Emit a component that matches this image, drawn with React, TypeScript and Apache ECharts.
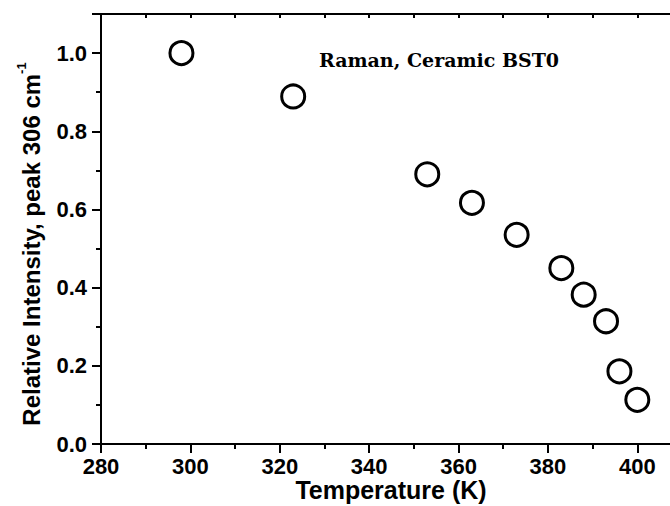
import React, { useEffect, useRef } from "react";
import * as echarts from "echarts";

// Temperature (K) and relative Raman intensity of the 306 cm-1 peak
const temperatures = [298, 323, 353, 363, 373, 383, 388, 393, 396, 400];
const intensities = [1.0, 0.889, 0.69, 0.617, 0.535, 0.45, 0.382, 0.314, 0.186, 0.113];

const xTickLabels = [280, 300, 320, 340, 360, 380, 400];
const yTickLabels = [0.0, 0.2, 0.4, 0.6, 0.8, 1.0];

const xTitle = "Temperature (K)";
const yTitle = "Relative Intensity, peak 306 cm";
const annotation = "Raman, Ceramic BST0";

const SANS = "'Liberation Sans', Arial, sans-serif";

export default function App() {
  const ref = useRef<HTMLDivElement>(null);

  useEffect(() => {
    document.body.style.margin = "0";
    if (!ref.current) return;
    const chart = echarts.init(ref.current, undefined, { renderer: "svg" });
    const axisLine = { show: true, lineStyle: { color: "#000", width: 2 } };
    const labelStyle = { color: "#000", fontFamily: SANS, fontWeight: "bold" as const, fontSize: 22 };

    chart.setOption({
      animation: false,
      backgroundColor: "#fff",
      grid: {
        left: 101,
        right: 18,
        top: 14,
        bottom: 62,
        containLabel: false,
        outerBoundsMode: "none",
      },
      xAxis: [
        {
          type: "value",
          min: 280,
          max: 410,
          interval: 20,
          axisLine,
          axisTick: { show: true, length: 9, lineStyle: { width: 2, color: "#000" } },
          minorTick: { show: true, splitNumber: 2, length: 5, lineStyle: { width: 2, color: "#000" } },
          splitLine: { show: false },
          axisLabel: {
            ...labelStyle,
            margin: 11,
            formatter: (v: number) => (xTickLabels.includes(Math.round(v)) ? String(Math.round(v)) : ""),
          },
        },
        {
          type: "value",
          position: "top",
          min: 280,
          max: 410,
          interval: 10,
          axisLine,
          axisTick: { show: true, inside: true, length: 4, lineStyle: { width: 2, color: "#000" } },
          axisLabel: { show: false },
          splitLine: { show: false },
        },
      ],
      yAxis: {
        type: "value",
        min: 0,
        max: 1.1,
        interval: 0.2,
        axisLine,
        axisTick: { show: true, length: 9, lineStyle: { width: 2, color: "#000" } },
        minorTick: { show: true, splitNumber: 2, length: 5, lineStyle: { width: 2, color: "#000" } },
        splitLine: { show: false },
        axisLabel: {
          ...labelStyle,
          margin: 14,
          formatter: (v: number) => {
            const hit = yTickLabels.find((t) => Math.abs(t - v) < 1e-6);
            return hit === undefined ? "" : hit.toFixed(1);
          },
        },
      },
      graphic: [
        {
          type: "text",
          x: 391,
          y: 490,
          style: {
            text: xTitle,
            fill: "#000",
            font: `bold 25px ${SANS}`,
            align: "center",
            verticalAlign: "middle",
          },
        },
        {
          type: "text",
          x: 31,
          y: 244,
          rotation: Math.PI / 2,
          style: {
            text: yTitle + "{sup|-1}",
            fill: "#000",
            font: `bold 24px ${SANS}`,
            align: "center",
            verticalAlign: "middle",
            rich: {
              sup: { fontSize: 13, fontWeight: "bold", fontFamily: SANS, fill: "#000", verticalAlign: "top", lineHeight: 32 },
            },
          },
        },
        {
          type: "text",
          x: 439,
          y: 60,
          style: {
            text: annotation,
            fill: "#000",
            font: "bold 19px 'DejaVu Serif', serif",
            align: "center",
            verticalAlign: "middle",
          },
        },
      ],
      series: [
        {
          type: "scatter",
          xAxisIndex: 0,
          data: temperatures.map((t, i) => [t, intensities[i]]),
          symbol: "circle",
          symbolSize: 23,
          itemStyle: { color: "#fff", borderColor: "#000", borderWidth: 3, opacity: 1 },
        },
      ],
    });
    return () => chart.dispose();
  }, []);

  return (
    <div style={{ width: 670, height: 506, overflow: "hidden", position: "relative" }}>
      <div ref={ref} style={{ width: 700, height: 506 }} />
    </div>
  );
}
